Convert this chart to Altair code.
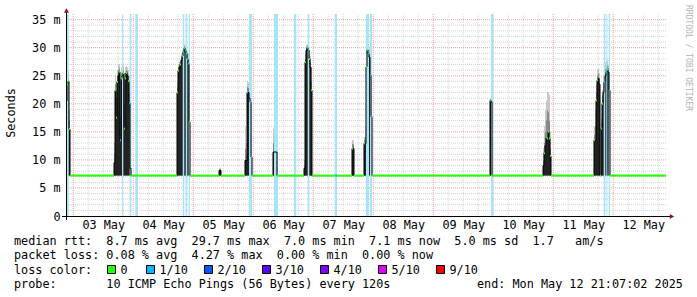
import altair as alt
import pandas as pd

NB = "\u00a0"


def nb(s):
    return s.replace(" ", NB)


MONO = "DejaVu Sans Mono"
FS = 11.8

# ---------------- data ----------------
T0 = "2025-05-02T21:07:02Z"          # graph start (end: Mon May 12 21:07:02 2025)
STEP_MIN = 24                         # one consolidated RRD row (12 x 120 s)
N_BINS = 600
BASE = 7.2                            # idle median rtt (ms)

# elevated episodes: first row index, then per-row median / smoke / loss marker
ep_start = [0, 48, 111, 153, 179, 207, 238, 269, 286, 298, 424, 477, 528]
ep_median = [
    [20.5, 23.5, 24.0, 15.5],
    [9.5, 22.4, 17.5, 23.9, 25.0, 25.7, 13.5, 24.5, 25.0, 25.5, 15.6, 24.5, 25.5, 25.0, 24.0, 20.1, 8.5],
    [22.0, 25.9, 26.5, 27.0, 27.7, 28.5, 29.2, 29.9, 29.5, 29.0, 28.0, 27.2, 16.8],
    [8.1, 8.1],
    [9.9, 9.9, 22.0, 22.0, 21.0, 20.3, 10.5],
    [11.4, 11.4, 11.4, 11.4],
    [8.5, 27.4, 29.5, 30.0, 29.6, 28.0, 26.5, 22.4],
    [7.2, 7.2],
    [12.0, 12.0],
    [12.9, 12.9, 26.6, 29.6, 28.9, 28.3, 25.1, 17.7],
    [20.6, 20.3],
    [9.0, 11.2, 12.5, 14.0, 13.8, 15.0, 13.8, 10.7],
    [13.5, 13.5, 20.6, 24.2, 24.5, 23.5, 7.2, 15.6, 20.0, 22.0, 23.9, 25.0, 25.6, 26.0, 25.6, 22.4],
]
ep_smoke_mid = [
    [22.0, 24.5, 24.8, 17.0],
    [11, 23.5, 21, 25, 26, 26.3, 18, 25.5, 25.8, 26, 20, 25.5, 26, 25.8, 25, 22, 9.5],
    [23, 26.5, 27, 27.5, 28.2, 29, 29.7, 30.2, 30, 29.5, 28.7, 28, 20],
    [8.3, 8.3],
    [12, 11, 23, 22.8, 22, 21, 12],
    [13, 13.5, 13.5, 13],
    [9, 28, 30, 30.3, 30, 28.8, 27.5, 24],
    [12.6, 12.6],
    [12.8, 12.8],
    [13.5, 14, 27.5, 30.2, 29.6, 29, 26.5, 20],
    [20.8, 20.5],
    [10, 13, 15, 17, 18.8, 18.5, 17, 12],
    [14.5, 16, 22, 25, 25.3, 24.5, 7.2, 16.5, 21.5, 23.5, 25, 26.2, 26.6, 26.8, 26.5, 24],
]
ep_smoke_hi = [
    [25.0, 25.7, 26.0, 19.0],
    [13, 25, 24, 26, 27, 27, 24, 26.5, 26.5, 26.8, 25, 26.5, 26.8, 26.5, 26, 25, 11],
    [24, 27, 27.5, 28, 28.8, 29.6, 30.2, 30.6, 30.4, 30, 29.5, 29, 26],
    [8.6, 8.6],
    [16, 13, 24, 23.8, 23, 22, 14],
    [15.6, 15.6, 15.6, 15],
    [10, 28.8, 30.5, 30.6, 30.4, 29.5, 28.5, 26.5],
    [18.3, 18.3],
    [13.5, 13.5],
    [14, 16, 28.5, 30.7, 30.3, 29.8, 28, 23],
    [21, 20.8],
    [12, 16, 19, 20.5, 22.1, 22, 21.5, 15],
    [16, 19, 23.5, 26, 26.3, 25.5, 7.2, 17.5, 22.5, 25, 26.5, 27.4, 27.7, 27.7, 27, 25.5],
]
# g = 0 loss, c = 1/10 loss, - = no coloured median visible
ep_loss = [
    "cggg",
    "-ggg-gcg-gggg-gc-",
    "gg-g-gcgcgcgg",
    "--",
    "--c--cc",
    "----",
    "-g-gcg-g",
    "cc",
    "g-",
    "g-ggc-cc",
    "c-",
    "-g-ggggg",
    "g-gg--ggg-c-gc-c",
]

# packet loss bars: start row and width in rows
loss_start = [1.0, 56.0, 63.7, 69.3, 116.7, 119.7, 122.7, 183.0, 208.0, 228.0,
              241.7, 268.7, 300.0, 304.0, 425.0, 537.7, 540.3, 542.7]
loss_width = [1.7, 1.3, 1.6, 2.7, 1.6, 1.6, 1.3, 3.0, 4.0, 2.3,
              1.6, 2.3, 3.0, 2.0, 2.3, 1.6, 1.0, 1.3]

y_ticks = [0, 5, 10, 15, 20, 25, 30, 35]
day_labels = [3, 4, 5, 6, 7, 8, 9, 10, 11, 12]

legend_lines = [
    "median rtt:  8.7 ms avg  29.7 ms max  7.0 ms min  7.1 ms now  5.0 ms sd  1.7   am/s",
    "packet loss: 0.08 % avg  4.27 % max  0.00 % min  0.00 % now",
]
loss_labels = ["0", "1/10", "2/10", "3/10", "4/10", "5/10", "9/10"]
loss_colors = ["#26ff00", "#00b8ff", "#0059ff", "#5e00ff", "#7e00ff", "#dd00ff", "#ff0000"]
probe_text = "probe:       10 ICMP Echo Pings (56 Bytes) every 120s"
end_text = "end: Mon May 12 21:07:02 2025"

# ---------------- build tables ----------------
T0_MS = int(pd.Timestamp(T0).value // 10**6)
STEP_MS = STEP_MIN * 60 * 1000


def tms(b):
    return T0_MS + b * STEP_MS


rows = []
for s, meds, mids, his, dots in zip(ep_start, ep_median, ep_smoke_mid, ep_smoke_hi, ep_loss):
    for i in range(len(meds)):
        rows.append((s + i, meds[i], mids[i], his[i], dots[i]))
    rows.append((s + len(meds), BASE, BASE, BASE, "g"))
rows.append((N_BINS, BASE, BASE, BASE, "g"))
series = pd.DataFrame(rows, columns=["bin", "med", "mid", "hi", "dot"])
series["t"] = series["bin"].map(tms)
series["base"] = BASE

seg = series.copy()
seg["tn"] = seg["t"].shift(-1)
seg = seg.dropna()
seg = seg[seg["dot"].isin(["g", "c"])]

loss = pd.DataFrame({
    "t0": [tms(s) for s in loss_start],
    "t1": [tms(s + w) for s, w in zip(loss_start, loss_width)],
})

grid_t = pd.date_range("2025-05-03T00:00:00Z", "2025-05-12T18:00:00Z", freq="6h")
vgrid = pd.DataFrame({"t": [int(t.value // 10**6) for t in grid_t], "h": [t.hour for t in grid_t]})
vminor = vgrid[vgrid["h"] != 0]
vmajor = vgrid[vgrid["h"] == 0]
hminor = pd.DataFrame({"v": [v for v in range(1, 36) if v % 5 != 0]})
hmajor = pd.DataFrame({"v": [v for v in range(5, 36, 5)]})

dummy = pd.DataFrame({"k": [0]})

# ---------------- chart ----------------
W, H = 600, 202
PL, PT = 66, 14

xscale = alt.Scale(type="utc", domain=[T0_MS, tms(N_BINS)])
yscale = alt.Scale(domain=[0, 36], nice=False, zero=False)
x_axis = alt.Axis(
    values=[alt.DateTime(year=2025, month=5, date=d, hours=12, utc=True) for d in day_labels],
    format="%d %b", title=None, domain=False, ticks=False, grid=False,
    labelFont=MONO, labelFontSize=FS, labelColor="#000000", labelPadding=3,
    labelFlush=False, labelOverlap=False,
)
y_axis = alt.Axis(
    values=y_ticks, title=None, domain=False, ticks=False, grid=False,
    labelExpr="datum.value == 0 ? '0" + NB + NB + "' : datum.value + ' m'",
    labelFont=MONO, labelFontSize=FS, labelColor="#000000", labelPadding=6,
)


def X(f):
    return alt.X(f, scale=xscale, axis=x_axis)


def Y(f):
    return alt.Y(f, scale=yscale, axis=y_axis)


GRAY_GRID = "#d2d2d2"
RED_GRID = "#e8a4a4"
layers = []
layers.append(alt.Chart(vminor).mark_rule(color=GRAY_GRID, strokeDash=[1, 1], strokeWidth=1).encode(x=X("t:T")))
layers.append(alt.Chart(hminor).mark_rule(color=GRAY_GRID, strokeDash=[1, 1], strokeWidth=1).encode(y=Y("v:Q")))
layers.append(alt.Chart(vmajor).mark_rule(color=RED_GRID, strokeDash=[1, 1], strokeWidth=1).encode(x=X("t:T")))
layers.append(alt.Chart(hmajor).mark_rule(color=RED_GRID, strokeDash=[1, 1], strokeWidth=1).encode(y=Y("v:Q")))

layers.append(alt.Chart(series).mark_area(interpolate="step-after", color="#c6c6c6").encode(
    x=X("t:T"), y=Y("hi:Q"), y2="base"))
layers.append(alt.Chart(series).mark_area(interpolate="step-after", color="#888888").encode(
    x=X("t:T"), y=Y("mid:Q"), y2="base"))
layers.append(alt.Chart(series).mark_area(interpolate="step-after", color="#222222").encode(
    x=X("t:T"), y=Y("med:Q"), y2="base"))

layers.append(alt.Chart(loss).mark_rect(color="#a8e4f8").encode(
    x=X("t0:T"), x2="t1", y=alt.value(0), y2=alt.value(H)))

layers.append(alt.Chart(series).mark_line(interpolate="step-after", color="#000000", strokeWidth=1).encode(
    x=X("t:T"), y=Y("med:Q")))
layers.append(alt.Chart(seg).mark_rule(strokeWidth=2).encode(
    x=X("t:T"), x2="tn", y=Y("med:Q"),
    color=alt.Color("dot:N", scale=alt.Scale(domain=["g", "c"], range=[loss_colors[0], loss_colors[1]]), legend=None)))

# axes lines and arrows
layers.append(alt.Chart(dummy).mark_rule(color="#000000", strokeWidth=1).encode(
    x=alt.value(-4), x2=alt.value(W + 4), y=alt.value(H + 0.5)))
layers.append(alt.Chart(dummy).mark_rule(color="#000000", strokeWidth=1).encode(
    x=alt.value(0.5), y=alt.value(-2), y2=alt.value(H + 4)))
layers.append(alt.Chart(dummy).mark_point(shape="triangle-up", filled=True, color="#8b1a1a", size=26, opacity=1).encode(
    x=alt.value(0.5), y=alt.value(-3.5)))
layers.append(alt.Chart(dummy).mark_point(shape="triangle-right", filled=True, color="#8b1a1a", size=26, opacity=1).encode(
    x=alt.value(W + 6), y=alt.value(H + 0.5)))


def text(txt, x_abs, y_abs, **kw):
    opts = dict(font=MONO, fontSize=FS, align="left", baseline="middle", color="#000000")
    opts.update(kw)
    return alt.Chart(dummy).mark_text(text=txt, **opts).encode(
        x=alt.value(x_abs - PL), y=alt.value(y_abs - PT))


layers.append(text("Seconds", 10.5, 113, angle=270, align="center"))
layers.append(text("RRDTOOL / TOBI OETIKER", 687.5, 58, angle=90, align="center", fontSize=8, color="#b4b4b4"))

TX = 14
layers.append(text(nb(legend_lines[0]), TX, 241))
layers.append(text(nb(legend_lines[1]), TX, 255))
layers.append(text(nb("loss color:"), TX, 269.5))
sq_left = [107] + [146 + 58 * k for k in range(len(loss_labels) - 1)]
for lab, col, sx in zip(loss_labels, loss_colors, sq_left):
    layers.append(alt.Chart(dummy).mark_rect(fill=col, stroke="#000000", strokeWidth=1).encode(
        x=alt.value(sx - PL + 0.5), x2=alt.value(sx - PL + 8.5),
        y=alt.value(265.5 - PT), y2=alt.value(273.5 - PT)))
    layers.append(text(lab, sx + 13.5, 269.5))
layers.append(text(nb(probe_text), TX, 283.5))
layers.append(text(nb(end_text), 477, 283.5))

chart = alt.layer(*layers).properties(
    width=W, height=H,
    padding={"left": PL, "top": PT, "right": 697 - PL - W, "bottom": 297 - PT - H},
    autosize=alt.AutoSizeParams(type="none"),
    background="#ffffff",
).configure_view(stroke=None)

chart.save("out.html", embed_options={"renderer": "svg", "actions": False})
